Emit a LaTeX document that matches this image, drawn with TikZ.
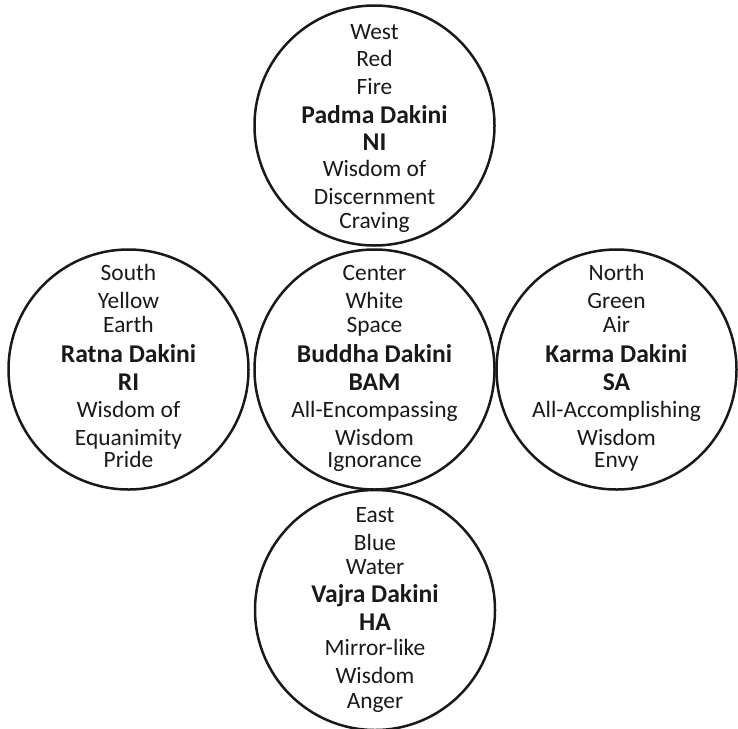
\documentclass[tikz,border=0pt]{standalone}
\usepackage{fontspec}
\setmainfont{Carlito}
\usetikzlibrary{calc}
\newcommand\ringtext[2]{\foreach \dy/\txt [count=\k] in {#2}{\node[lbl] (#1-\k) at ($(#1)+(0,\dy)$) {\txt};}}
\newcommand\bl[1]{{\fontsize{25.6}{28}\selectfont\bfseries #1}}
\begin{document}
\begin{tikzpicture}[x=1pt,y=-1pt,
  ring/.style={circle, draw=black!90, line width=2.5pt, minimum size=240pt, inner sep=0pt},
  lbl/.style={anchor=base, inner sep=0pt, text=black!90, font=\fontsize{23.4}{28}\selectfont}]
\useasboundingbox (0,0) rectangle (738,728);
\clip (0,0) rectangle (738,728);
\node[ring] (top) at (374.5,125.5) {};
\node[ring] (left) at (128.5,369.5) {};
\node[ring] (center) at (374.5,369.5) {};
\node[ring] (right) at (616.5,369.5) {};
\node[ring] (bottom) at (375,610) {};
\ringtext{top}{-86.5/West, -58.8/Red, -31.2/Fire, -2.2/\bl{Padma Dakini}, 24.5/\bl{NI}, 51.2/Wisdom of, 78.5/Discernment, 102.5/Craving}
\ringtext{left}{-88.8/South, -60.8/Yellow, -36.8/Earth, -6.8/\bl{Ratna Dakini}, 20.5/\bl{RI}, 47.5/Wisdom of, 75.5/Equanimity, 97.5/Pride}
\ringtext{center}{-88.8/Center, -60.8/White, -36.8/Space, -6.8/\bl{Buddha Dakini}, 20.5/\bl{BAM}, 47.5/All-Encompassing, 75.5/Wisdom, 97.5/Ignorance}
\ringtext{right}{-88.8/North, -60.8/Green, -36.8/Air, -6.8/\bl{Karma Dakini}, 20.5/\bl{SA}, 47.5/All-Accomplishing, 75.5/Wisdom, 97.5/Envy}
\ringtext{bottom}{-87.3/East, -60/Blue, -36/Water, -7.3/\bl{Vajra Dakini}, 20.7/\bl{HA}, 45/Mirror-like, 73.3/Wisdom, 98.3/Anger}
\end{tikzpicture}
\end{document}
